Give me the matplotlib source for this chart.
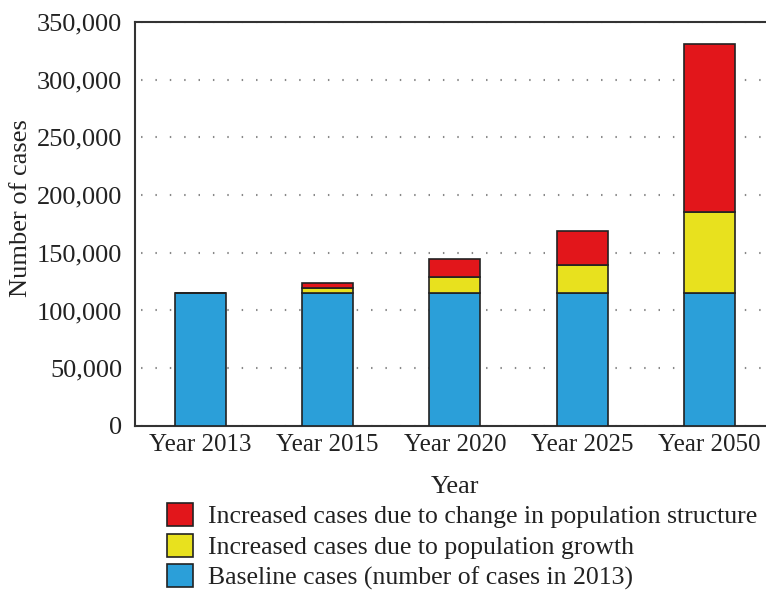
import matplotlib.pyplot as plt
from matplotlib.ticker import FuncFormatter

# values
years = ["Year 2013", "Year 2015", "Year 2020", "Year 2025", "Year 2050"]
baseline = [115300, 115300, 115300, 115300, 115300]
growth = [0, 4000, 13600, 24200, 70400]
structure = [0, 4300, 15900, 29700, 145000]

labels = ["Increased cases due to change in population structure",
          "Increased cases due to population growth",
          "Baseline cases (number of cases in 2013)"]
c_red = "#e2161b"
c_yel = "#e8e11e"
c_blu = "#2b9fd9"

plt.rcParams['font.family'] = ['Liberation Serif', 'DejaVu Serif']

fig = plt.figure(figsize=(7.66, 5.94), dpi=100)
ax = fig.add_axes([0.176, 0.283, 0.830, 0.680])

x = range(len(years))
w = 0.40
ec = "#222222"
b1 = ax.bar(x, baseline, w, color=c_blu, edgecolor=ec, linewidth=1.2, zorder=3)
b2 = ax.bar(x, growth, w, bottom=baseline, color=c_yel, edgecolor=ec, linewidth=1.2, zorder=3)
bottom2 = [a + b for a, b in zip(baseline, growth)]
b3 = ax.bar(x, structure, w, bottom=bottom2, color=c_red, edgecolor=ec, linewidth=1.2, zorder=3)

x0, x1 = -0.515, 4.48
ax.set_ylim(0, 350000)
ax.set_xlim(x0, x1)
ax.set_yticks(range(0, 350001, 50000))
ax.yaxis.set_major_formatter(FuncFormatter(lambda v, p: f"{int(v):,}"))
ax.set_xticks(list(x))
ax.set_xticklabels(years, fontsize=18, color="#222222")
ax.tick_params(axis='y', labelsize=19, length=0, pad=9, labelcolor="#222222")
ax.tick_params(axis='x', length=0, pad=6)

ax.yaxis.grid(True, linestyle=(4, (0.7, 6.2)), color="#888888", linewidth=1.5, zorder=0)
ax.set_axisbelow(True)
for s in ["left", "bottom", "top"]:
    ax.spines[s].set_color("#333333")
    ax.spines[s].set_linewidth(1.5)
ax.spines["right"].set_visible(False)

ax.set_ylabel("Number of cases", fontsize=19, color="#222222")
ax.yaxis.set_label_coords(-0.162, 0.54)
ax.set_xlabel("Year", fontsize=19, color="#222222")
# centre the x label under the bars, not under the whole axes
ax.xaxis.set_label_coords((2 - x0) / (x1 - x0), -0.125)

fig.legend([b3, b2, b1], labels, loc='upper left', bbox_to_anchor=(0.2174, 0.153),
           frameon=False, fontsize=18.5, borderpad=0, borderaxespad=0,
           handlelength=1.03, handleheight=1.0, handletextpad=0.6,
           labelspacing=0.2, labelcolor="#222222")

fig.savefig("out.png", dpi=100)
